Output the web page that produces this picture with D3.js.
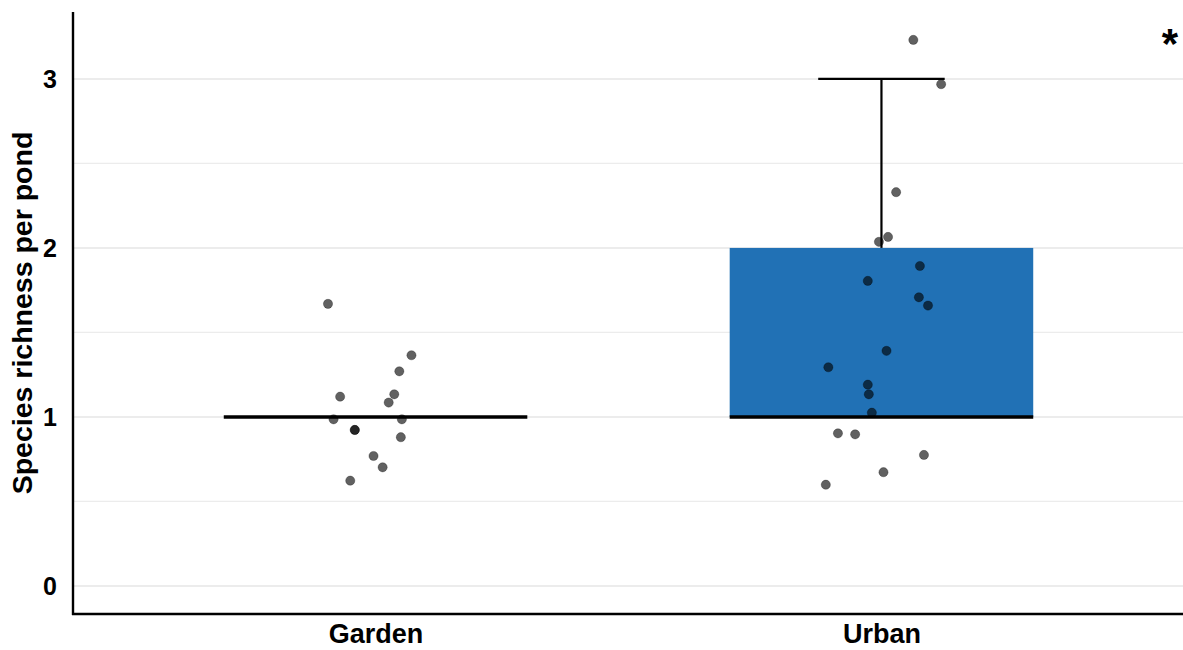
<!DOCTYPE html>
<html>
<head>
<meta charset="utf-8">
<script src="https://cdn.jsdelivr.net/npm/d3@7/dist/d3.min.js"></script>
<style>
  html, body { margin: 0; padding: 0; background: #fff; }
  svg { display: block; }
  text { font-family: "Liberation Sans", Arial, sans-serif; font-weight: bold; fill: #000; }
</style>
</head>
<body>
<svg id="chart" width="1183" height="650"></svg>
<script>
// Pond types
const categories = ["Garden", "Urban"];

// Box summaries per pond type
const lowerWhisker = [1, 1];
const q1 = [1, 1];
const medians = [1, 1];
const q3 = [1, 2];
const upperWhisker = [1, 3];

// Observed richness per pond (jittered), with horizontal jitter in band-step units
const gardenValues = [1.669, 1.365, 1.270, 1.120, 1.134, 1.085, 0.986, 0.986, 0.923, 0.923, 0.880, 0.769, 0.702, 0.623];
const gardenJitter = [-0.094, 0.071, 0.047, -0.070, 0.037, 0.026, -0.083, 0.052, -0.041, -0.041, 0.050, -0.004, 0.014, -0.050];
const urbanValues = [3.231, 2.969, 2.330, 2.065, 2.036, 1.893, 1.805, 1.708, 1.659, 1.391, 1.294, 1.191, 1.134, 1.025, 0.903, 0.897, 0.775, 0.673, 0.599];
const urbanJitter = [0.063, 0.118, 0.029, 0.013, -0.005, 0.076, -0.027, 0.074, 0.092, 0.010, -0.105, -0.027, -0.025, -0.019, -0.086, -0.052, 0.084, 0.004, -0.110];

const yTicks = [0, 1, 2, 3];
const yMinor = [0.5, 1.5, 2.5];
const yLabel = "Species richness per pond";
const significance = "*";

const W = 1183, H = 650;
const panel = { left: 72, right: 1185, top: 12, bottom: 614 };

const svg = d3.select("#chart");

const x = d3.scalePoint().domain(categories).range([panel.left, panel.right]).padding(0.6);
const step = x.step();
const y = d3.scaleLinear().domain([-0.166, 3.396]).range([panel.bottom, panel.top]);

// Grid lines
svg.append("g").selectAll("line").data(yMinor).join("line")
  .attr("x1", panel.left).attr("x2", W)
  .attr("y1", d => y(d)).attr("y2", d => y(d))
  .attr("stroke", "#ececec").attr("stroke-width", 1.2);
svg.append("g").selectAll("line").data(yTicks).join("line")
  .attr("x1", panel.left).attr("x2", W)
  .attr("y1", d => y(d)).attr("y2", d => y(d))
  .attr("stroke", "#e6e6e6").attr("stroke-width", 1.6);

// Boxes
const boxes = categories.map((c, i) => ({
  c, lo: lowerWhisker[i], q1: q1[i], med: medians[i], q3: q3[i], hi: upperWhisker[i]
}));
const boxW = step * 0.6;
const capW = step * 0.25;
const gBox = svg.append("g");

boxes.forEach(b => {
  const cx = x(b.c);
  if (b.hi > b.q3) {
    gBox.append("line")
      .attr("x1", cx).attr("x2", cx)
      .attr("y1", y(b.q3)).attr("y2", y(b.hi))
      .attr("stroke", "#000").attr("stroke-width", 2.2);
    gBox.append("line")
      .attr("x1", cx - capW / 2).attr("x2", cx + capW / 2)
      .attr("y1", y(b.hi)).attr("y2", y(b.hi))
      .attr("stroke", "#000").attr("stroke-width", 2.2);
  }
  if (b.q3 > b.q1) {
    gBox.append("rect")
      .attr("x", cx - boxW / 2).attr("width", boxW)
      .attr("y", y(b.q3)).attr("height", y(b.q1) - y(b.q3))
      .attr("fill", "#2171b5");
  }
  gBox.append("line")
    .attr("x1", cx - boxW / 2).attr("x2", cx + boxW / 2)
    .attr("y1", y(b.med)).attr("y2", y(b.med))
    .attr("stroke", "#000").attr("stroke-width", 3.6);
});

// Jittered points
const pts = [];
gardenValues.forEach((v, i) => pts.push({ c: "Garden", v, j: gardenJitter[i] }));
urbanValues.forEach((v, i) => pts.push({ c: "Urban", v, j: urbanJitter[i] }));
svg.append("g").selectAll("circle").data(pts).join("circle")
  .attr("cx", d => x(d.c) + d.j * step)
  .attr("cy", d => y(d.v))
  .attr("r", 4.6)
  .attr("fill", "#000")
  .attr("fill-opacity", 0.62)
  .attr("stroke", "#000")
  .attr("stroke-opacity", 0.35)
  .attr("stroke-width", 0.8);

// Axes
const yAxis = svg.append("g").attr("transform", `translate(${panel.left},0)`)
  .call(d3.axisLeft(y).tickValues(yTicks).tickFormat(d3.format("d")).tickSize(0).tickPadding(15));
yAxis.select(".domain").remove();
yAxis.selectAll("text").style("font-size", "25px").attr("dy", "0.36em");

const xAxis = svg.append("g").attr("transform", `translate(0,${panel.bottom})`)
  .call(d3.axisBottom(x).tickSize(0).tickPadding(10));
xAxis.select(".domain").remove();
xAxis.selectAll("text").style("font-size", "27px").attr("dy", "0.71em");

svg.append("line")
  .attr("x1", panel.left + 1).attr("x2", panel.left + 1)
  .attr("y1", panel.top).attr("y2", panel.bottom + 1)
  .attr("stroke", "#000").attr("stroke-width", 2.4);
svg.append("line")
  .attr("x1", panel.left).attr("x2", W)
  .attr("y1", panel.bottom).attr("y2", panel.bottom)
  .attr("stroke", "#000").attr("stroke-width", 2.4);

// Axis title
svg.append("text")
  .attr("transform", `translate(32,${(panel.top + panel.bottom) / 2}) rotate(-90)`)
  .attr("text-anchor", "middle")
  .style("font-size", "28.5px")
  .text(yLabel);

// Significance marker
svg.append("text")
  .attr("x", 1170).attr("y", 58)
  .attr("text-anchor", "middle")
  .style("font-size", "42px")
  .text(significance);
</script>
</body>
</html>
